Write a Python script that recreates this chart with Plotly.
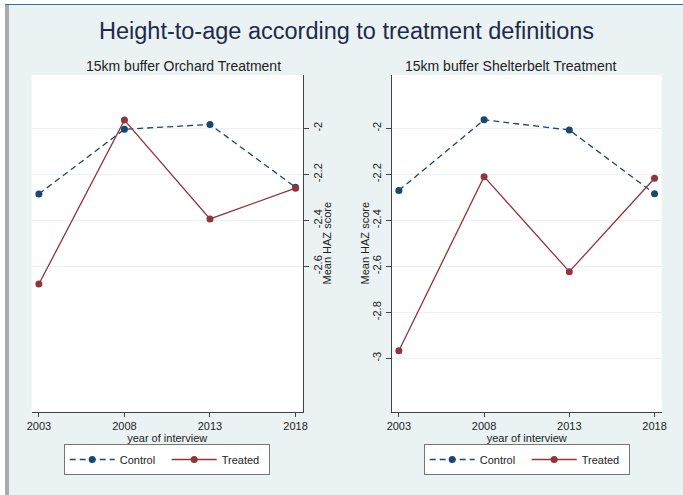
import plotly.graph_objects as go

years = [2003, 2008, 2013, 2018]
orchard_control = [-2.285, -2.004, -1.983, -2.256]
orchard_treated = [-2.677, -1.964, -2.394, -2.260]
shelter_control = [-2.270, -1.963, -2.007, -2.284]
shelter_treated = [-2.967, -2.210, -2.623, -2.217]

left_ticks = [-2, -2.2, -2.4, -2.6]
right_ticks = [-2, -2.2, -2.4, -2.6, -2.8, -3]
left_tick_labels = ["-2", "-2.2", "-2.4", "-2.6"]
right_tick_labels = ["-2", "-2.2", "-2.4", "-2.6", "-2.8", "-3"]

W, H = 683, 495
NAVY = "#1a476f"
MAROON = "#90353b"
BG = "#eaf2f3"
AX = "#444444"
FONT = "Liberation Sans, Arial, sans-serif"

def px(x):
    return x / W

def py(y):
    return 1 - y / H

fig = go.Figure()

def add_series(xa, ya, ctrl, trt, legend):
    fig.add_trace(go.Scatter(
        x=years, y=ctrl, mode="lines+markers", name="Control",
        line=dict(color=NAVY, width=1.3, dash="6px,4px"),
        marker=dict(color=NAVY, size=7),
        xaxis=xa, yaxis=ya, legend=legend, cliponaxis=False))
    fig.add_trace(go.Scatter(
        x=years, y=trt, mode="lines+markers", name="Treated",
        line=dict(color=MAROON, width=1.3),
        marker=dict(color=MAROON, size=7),
        xaxis=xa, yaxis=ya, legend=legend, cliponaxis=False))

add_series("x", "y", orchard_control, orchard_treated, "legend")
add_series("x2", "y2", shelter_control, shelter_treated, "legend2")

yr = [-3.232, -1.768]
xr = [2002.58, 2018.42]
ydom = [py(411.7), py(75)]

common_x = dict(range=xr, tickvals=years, ticks="outside", ticklen=4,
                tickcolor=AX, showline=True, linecolor=AX, linewidth=1,
                showgrid=False, zeroline=False, automargin=False,
                tickfont=dict(size=11, color="#222"),
                title=dict(text="year of interview", font=dict(size=11, color="#222"), standoff=2))
common_y = dict(range=yr, ticks="outside", ticklen=5, tickcolor=AX,
                showline=True, linecolor=AX, linewidth=1, automargin=False,
                showgrid=True, gridcolor=BG, gridwidth=1.2, zeroline=False,
                tickangle=-90, tickfont=dict(size=11, color="#222"))

legend_common = dict(orientation="h", y=py(459.5), xanchor="center", yanchor="middle",
                     bgcolor="white", bordercolor="#777", borderwidth=1,
                     itemwidth=45, entrywidth=42,
                     font=dict(size=11, color="#222"), itemclick=False)

fig.update_layout(
    width=W, height=H,
    margin=dict(l=0, r=0, t=0, b=0, autoexpand=False),
    paper_bgcolor=BG, plot_bgcolor="white",
    font=dict(family=FONT, size=11, color="#222"),
    xaxis=dict(domain=[px(31.7), px(302.7)], anchor="y", **common_x),
    yaxis=dict(domain=ydom, anchor="x", side="right", tickvals=left_ticks,
               ticktext=left_tick_labels, **common_y),
    xaxis2=dict(domain=[px(391.7), px(661.7)], anchor="y2", **common_x),
    yaxis2=dict(domain=ydom, anchor="x2", side="left", tickvals=right_ticks,
                ticktext=right_tick_labels, **common_y),
    legend=dict(x=px(166.7), **legend_common),
    legend2=dict(x=px(526.7), **legend_common),
    showlegend=True,
)

fig.add_annotation(text="Height-to-age according to treatment definitions",
                   x=px(346.5), y=py(31), xref="paper", yref="paper",
                   xanchor="center", yanchor="middle", showarrow=False,
                   font=dict(size=23.5, color="#1c2b4a", family=FONT))
fig.add_annotation(text="15km buffer Orchard Treatment",
                   x=px(183.5), y=py(66), xref="paper", yref="paper",
                   xanchor="center", yanchor="middle", showarrow=False,
                   font=dict(size=14, color="#222", family=FONT))
fig.add_annotation(text="15km buffer Shelterbelt Treatment",
                   x=px(510.5), y=py(66), xref="paper", yref="paper",
                   xanchor="center", yanchor="middle", showarrow=False,
                   font=dict(size=14, color="#222", family=FONT))
for xc in (327, 365):
    fig.add_annotation(text="Mean HAZ score", textangle=-90,
                       x=px(xc), y=py(243.5), xref="paper", yref="paper",
                       xanchor="center", yanchor="middle", showarrow=False,
                       font=dict(size=11, color="#222", family=FONT))

# frame decorations
fig.add_shape(type="rect", xref="paper", yref="paper", x0=0, x1=px(5), y0=0, y1=1,
              fillcolor="white", line=dict(width=0), layer="below")
fig.add_shape(type="rect", xref="paper", yref="paper", x0=px(5), x1=px(9), y0=0, y1=1,
              fillcolor="#ababab", line=dict(width=0), layer="below")
fig.add_shape(type="rect", xref="paper", yref="paper", x0=px(5), x1=1, y0=py(4), y1=1,
              fillcolor="white", line=dict(width=0), layer="below")
fig.add_shape(type="rect", xref="paper", yref="paper", x0=px(5), x1=1, y0=py(5), y1=py(4),
              fillcolor="#2e75b0", line=dict(width=0), layer="below")

fig.write_html("out.html", config={"displayModeBar": False},
               post_script="document.body.style.margin='0';")
